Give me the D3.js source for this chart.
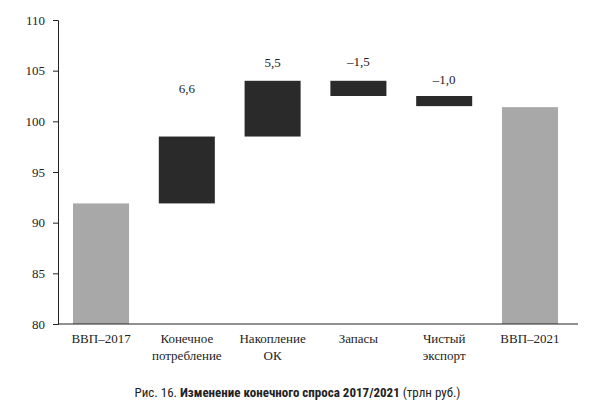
<!DOCTYPE html>
<html><head><meta charset="utf-8">
<script src="https://cdn.jsdelivr.net/npm/d3@7"></script>
<style>
body{margin:0;background:#fff;}
text{font-family:"Liberation Serif",serif;fill:#222;}
</style></head>
<body><div id="chart"></div>
<script>
const categories = ['ВВП–2017', 'Конечное\nпотребление', 'Накопление\nОК', 'Запасы', 'Чистый\nэкспорт', 'ВВП–2021'];
const bases = [80, 91.9, 98.5, 102.5, 101.5, 80];
const tops = [91.9, 98.5, 104.0, 104.0, 102.5, 101.4];
const labels = ['', '6,6', '5,5', '–1,5', '–1,0', ''];
const labelValues = [null, 102.8, 105.4, 105.5, 103.7, null];
const totals = [true, false, false, false, false, true];
const yTicks = [80, 85, 90, 95, 100, 105, 110];

const W = 595, H = 410;
const svg = d3.select('#chart').append('svg').attr('width', W).attr('height', H);

const x = d3.scaleBand().domain(categories).range([58, 573]).paddingInner(0.347).paddingOuter(0.175);
const y = d3.scaleLinear().domain([80, 110]).range([324, 20]);

// bars
svg.selectAll('rect.bar').data(categories).enter().append('rect')
    .attr('x', d => x(d))
    .attr('width', x.bandwidth())
    .attr('y', (d, i) => y(tops[i]))
    .attr('height', (d, i) => y(bases[i]) - y(tops[i]))
    .attr('fill', (d, i) => totals[i] ? '#a8a8a8' : '#2a2a2a');

// value labels
svg.selectAll('text.val').data(categories).enter().append('text')
    .attr('x', d => x(d) + x.bandwidth() / 2)
    .attr('y', (d, i) => labelValues[i] === null ? 0 : y(labelValues[i]))
    .attr('text-anchor', 'middle')
    .style('font-size', '13px')
    .text((d, i) => labels[i]);

// y axis
svg.append('g')
    .attr('transform', 'translate(58,0)')
    .call(d3.axisLeft(y).tickValues(yTicks).tickSize(5).tickPadding(8))
    .call(g => g.selectAll('text').style('font-size', '13px').attr('fill', '#222'))
    .call(g => g.selectAll('line,path').attr('stroke', '#222'));

// x axis
svg.append('line').attr('x1', 58).attr('x2', 578).attr('y1', 324).attr('y2', 324).attr('stroke', '#222');

categories.forEach(c => {
    const t = svg.append('text')
        .attr('x', x(c) + x.bandwidth() / 2)
        .attr('y', 343)
        .attr('text-anchor', 'middle')
        .style('font-size', '13px');
    c.split('\n').forEach((line, j) => {
        t.append('tspan').attr('x', x(c) + x.bandwidth() / 2).attr('dy', j ? 17 : 0).text(line);
    });
});

// caption
const cap = svg.append('text')
    .attr('x', W / 2).attr('y', 397)
    .attr('text-anchor', 'middle')
    .style('font-family', 'Roboto, sans-serif')
    .style('font-size', '13px')
    .style('font-stretch', 'condensed');
cap.append('tspan').text('Рис. 16. ');
cap.append('tspan').style('font-weight', 'bold').text('Изменение конечного спроса 2017/2021');
cap.append('tspan').text(' (трлн руб.)');
</script>
</body></html>
